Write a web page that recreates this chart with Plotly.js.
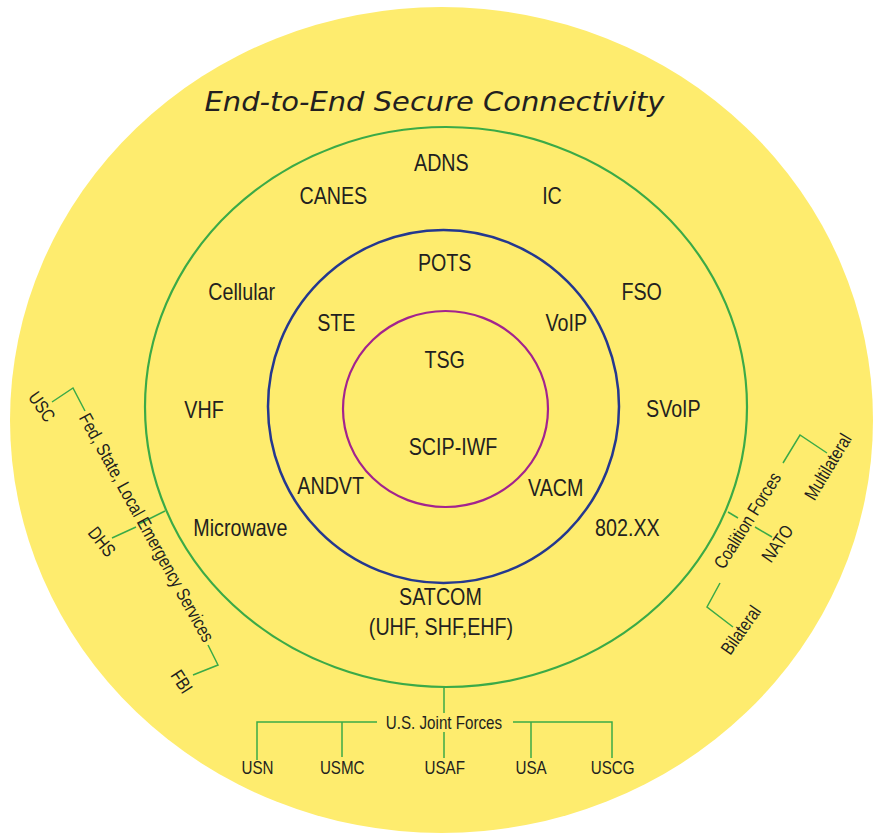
<!DOCTYPE html>
<html>
<head>
<meta charset="utf-8">
<script src="https://cdn.plot.ly/plotly-3.0.1.min.js"></script>
<style>html,body{margin:0;padding:0;background:#fff;}#chart{width:875px;height:834px;}</style>
</head>
<body>
<div id="chart"></div>
<script>
// ---------- DATA ----------
const titleText = 'End-to-End Secure Connectivity';

// rings: bounding boxes in plot units
const ringNames = ['outer', 'network', 'voice', 'core'];
const ringX0 = [10, 145, 268, 343];
const ringX1 = [873, 747, 619, 548];
const ringY0 = [7, 127, 230, 311];
const ringY1 = [833, 687, 583, 507];

// outer (green) ring labels
const netLabels = ['ADNS', 'CANES', 'IC', 'Cellular', 'FSO', 'VHF', 'SVoIP', 'Microwave', '802.XX', 'SATCOM', '(UHF, SHF,EHF)'];
const netX = [441, 333, 552, 241, 641, 204, 673, 240, 627, 440, 441];
const netY = [162, 195, 195, 291, 291, 409, 408, 527, 527, 596, 626];

// middle (blue) ring labels
const voiceLabels = ['POTS', 'STE', 'VoIP', 'ANDVT', 'VACM'];
const voiceX = [444, 336, 566, 331, 556];
const voiceY = [262, 322, 322, 485, 487];

// core (magenta) labels
const coreLabels = ['TSG', 'SCIP-IWF'];
const coreX = [444, 453];
const coreY = [359, 446];

// U.S. Joint Forces branch
const jointTitle = 'U.S. Joint Forces';
const jointLabels = ['USN', 'USMC', 'USAF', 'USA', 'USCG'];
const jointX = [257, 342, 444, 531, 612];
const jointLabelY = 767;

// Federal / state branch (rotated)
const fedLabels = ['Fed, State, Local Emergency Services', 'USC', 'DHS', 'FBI'];
const fedX = [147, 42, 102, 182];
const fedY = [527, 406, 541, 681];
const fedAngle = [61, 55, 52, 57];

// Coalition branch (rotated)
const coalLabels = ['Coalition Forces', 'NATO', 'Multilateral', 'Bilateral'];
const coalX = [747, 777, 827, 740];
const coalY = [520, 543, 467, 630];
const coalAngle = [-58, -55, -59, -55];

// connector polylines
const connectors = [
  {x: [444, 444], y: [687, 713]},
  {x: [377, 257, 257], y: [722, 722, 760]},
  {x: [342, 342], y: [722, 757]},
  {x: [444, 444], y: [732, 758]},
  {x: [513, 612, 612], y: [722, 722, 758]},
  {x: [531, 531], y: [722, 758]},
  {x: [52, 73, 85], y: [402, 388, 411]},
  {x: [165, 139], y: [511, 524]},
  {x: [136, 112], y: [527, 538]},
  {x: [208, 218, 193], y: [645, 665, 675]},
  {x: [728, 738], y: [512, 518]},
  {x: [755, 772], y: [527, 537]},
  {x: [783, 800, 827], y: [463, 435, 453]},
  {x: [720, 707, 733], y: [583, 607, 627]}
];

// ---------- STYLE ----------
const ringFill = ['#FEEC6E', 'rgba(0,0,0,0)', 'rgba(0,0,0,0)', 'rgba(0,0,0,0)'];
const ringLine = ['rgba(0,0,0,0)', '#3BAA47', '#24388F', '#A3238E'];
const ringWidth = [0, 2.2, 2.5, 2.2];
const txtColor = '#231F20';
const labelFont = '"Liberation Sans", Arial, sans-serif';
const titleFont = '"DejaVu Sans", sans-serif';
const green = '#3BAA47';
const condense = 0.82;   // condensed look of the original lettering
const titleWidth = 460;

const shapes = ringNames.map((n, i) => ({
  type: 'circle', xref: 'x', yref: 'y', layer: 'below',
  x0: ringX0[i], x1: ringX1[i], y0: ringY0[i], y1: ringY1[i],
  fillcolor: ringFill[i], line: {color: ringLine[i], width: ringWidth[i]}
}));

const annotations = [];
function addText(text, x, y, size, angle) {
  annotations.push({
    text: text, x: x, y: y, xref: 'x', yref: 'y', showarrow: false,
    xanchor: 'center', yanchor: 'middle', textangle: angle || 0,
    font: {family: labelFont, size: size, color: txtColor}
  });
}
netLabels.forEach((t, i) => addText(t, netX[i], netY[i], 24));
voiceLabels.forEach((t, i) => addText(t, voiceX[i], voiceY[i], 24));
coreLabels.forEach((t, i) => addText(t, coreX[i], coreY[i], 24));
addText(jointTitle, 444, 722, 18.5);
jointLabels.forEach((t, i) => addText(t, jointX[i], jointLabelY, 18.5));
fedLabels.forEach((t, i) => addText(t, fedX[i], fedY[i], 18.5, fedAngle[i]));
coalLabels.forEach((t, i) => addText(t, coalX[i], coalY[i], 18.5, coalAngle[i]));
annotations.push({
  text: '<i>' + titleText + '</i>', x: 435, y: 101, xref: 'x', yref: 'y', showarrow: false,
  xanchor: 'center', yanchor: 'middle',
  font: {family: titleFont, size: 27, color: txtColor}
});

const traces = connectors.map(c => ({
  type: 'scatter', mode: 'lines', x: c.x, y: c.y,
  line: {color: green, width: 1.5}, hoverinfo: 'skip', showlegend: false
}));

const layout = {
  width: 875, height: 834,
  margin: {l: 0, r: 0, t: 0, b: 0},
  paper_bgcolor: '#ffffff', plot_bgcolor: '#ffffff',
  xaxis: {range: [0, 875], visible: false, fixedrange: true},
  yaxis: {range: [834, 0], visible: false, fixedrange: true},
  shapes: shapes, annotations: annotations, showlegend: false
};
Plotly.newPlot('chart', traces, layout, {staticPlot: true, displayModeBar: false}).then(gd => {
  gd.querySelectorAll('text.annotation-text').forEach(el => {
    const len = el.getComputedTextLength();
    const isTitle = el.textContent === titleText;
    el.setAttribute('lengthAdjust', 'spacingAndGlyphs');
    el.setAttribute('textLength', isTitle ? titleWidth : len * condense);
  });
});
</script>
</body>
</html>
